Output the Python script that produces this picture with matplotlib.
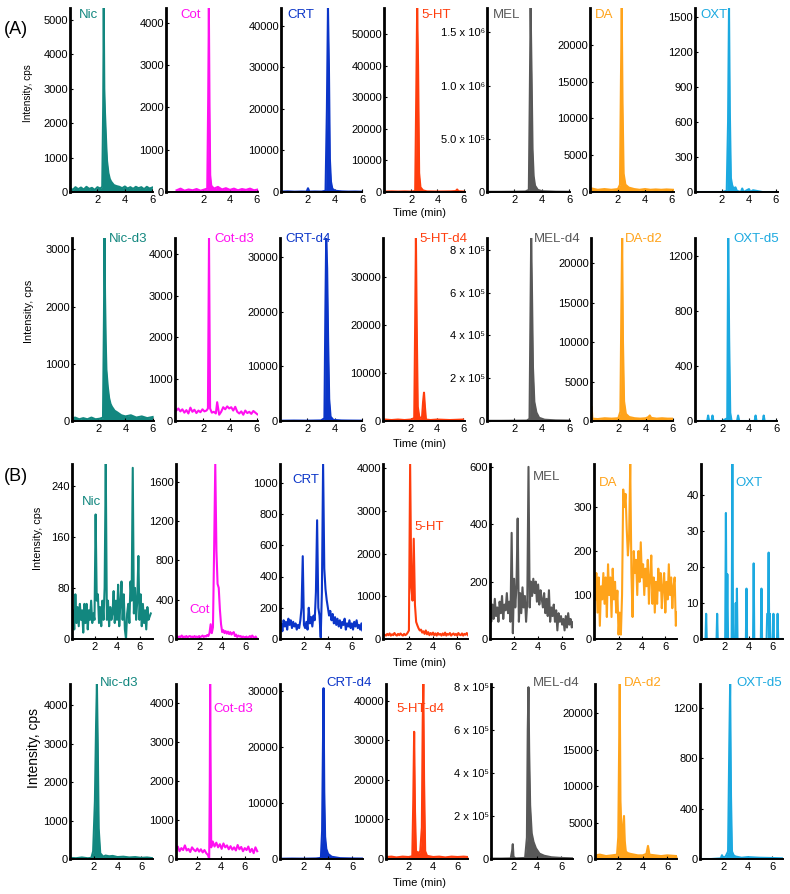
import numpy as np
import matplotlib.pyplot as plt

plt.rcParams['font.family'] = ['Liberation Sans', 'DejaVu Sans']

TEAL = "#12877f"
MAGENTA = "#ff10f0"
BLUE = "#0b35c8"
RED = "#ff3d0d"
GRAY = "#585858"
ORANGE = "#ffa31a"
SKY = "#1ba9e0"

# ---- (A) standards, analytes: (time min, intensity cps)
nic_a = [(0.0, 120), (0.2, 60), (0.4, 140), (0.6, 80), (0.8, 130), (1.0, 70), (1.2, 150), (1.4, 90),
         (1.6, 120), (1.8, 60), (2.0, 140), (2.2, 100), (2.35, 150), (2.42, 2500), (2.46, 5350),
         (2.5, 3000), (2.55, 2300), (2.6, 1800), (2.65, 1300), (2.7, 900), (2.8, 550), (2.9, 380),
         (3.0, 300), (3.1, 250), (3.2, 200), (3.4, 170), (3.6, 150), (3.8, 110), (4.0, 160), (4.2, 100),
         (4.4, 140), (4.6, 90), (4.8, 150), (5.0, 110), (5.2, 140), (5.4, 80), (5.6, 150), (5.8, 100),
         (6.0, 130)]
cot_a = [(0.0, 40), (0.3, 80), (0.6, 30), (0.9, 60), (1.2, 40), (1.5, 70), (1.8, 30), (2.1, 60),
         (2.3, 80), (2.37, 2200), (2.42, 4350), (2.47, 2000), (2.52, 400), (2.6, 150), (2.8, 80),
         (3.1, 120), (3.4, 60), (3.7, 90), (4.0, 50), (4.3, 80), (4.6, 40), (4.9, 70), (5.2, 50),
         (5.5, 80), (5.8, 40), (6.1, 60)]
crt_a = [(0.0, 100), (0.5, 150), (1.0, 80), (1.5, 120), (1.9, 100), (2.0, 900), (2.1, 100), (2.5, 130),
         (3.0, 100), (3.3, 300), (3.4, 20000), (3.48, 44300), (3.55, 30000), (3.62, 8000), (3.7, 2500),
         (3.8, 800), (4.0, 300), (4.5, 150), (5.0, 100), (5.5, 120), (6.0, 80)]
ht_a = [(0.0, 150), (0.5, 200), (1.0, 150), (1.5, 200), (2.0, 150), (2.3, 300), (2.38, 30000),
        (2.45, 58200), (2.52, 40000), (2.6, 6000), (2.7, 1500), (2.9, 500), (3.2, 200), (4.0, 150),
        (5.0, 200), (5.4, 300), (5.5, 800), (5.6, 250), (6.0, 150)]
mel_a = [(0.0, 2000), (1.0, 2000), (2.0, 3000), (2.8, 5000), (3.05, 20000), (3.12, 900000),
         (3.18, 1730000), (3.25, 1100000), (3.32, 400000), (3.4, 150000), (3.5, 60000), (3.7, 20000),
         (4.0, 8000), (5.0, 3000), (6.0, 2000)]
da_a = [(0.0, 500), (0.5, 300), (1.0, 400), (1.5, 300), (2.0, 400), (2.15, 1000), (2.22, 15000),
        (2.28, 25000), (2.34, 12000), (2.42, 2500), (2.55, 1000), (2.8, 600), (3.2, 400), (3.6, 300),
        (4.0, 400), (4.4, 300), (4.8, 350), (5.2, 300), (5.6, 350), (6.1, 300)]
oxt_a = [(0.0, 0), (1.0, 0), (2.0, 0), (2.35, 10), (2.45, 600), (2.52, 1580), (2.58, 700), (2.66, 120),
         (2.75, 60), (2.85, 30), (3.0, 40), (3.1, 10), (3.4, 0), (3.5, 30), (3.6, 0), (4.0, 25),
         (4.1, 0), (4.3, 15), (5.0, 0), (6.0, 0)]

# ---- (A) standards, internal standards
nic_d3_a = [(0.0, 40), (0.3, 60), (0.6, 30), (0.9, 50), (1.2, 30), (1.5, 60), (1.8, 30), (2.1, 40),
            (2.35, 60), (2.42, 1800), (2.46, 3200), (2.5, 2200), (2.55, 1400), (2.6, 900), (2.7, 600),
            (2.8, 400), (2.9, 300), (3.0, 250), (3.2, 180), (3.4, 150), (3.7, 100), (4.0, 80),
            (4.4, 100), (4.8, 60), (5.2, 80), (5.6, 50), (6.0, 70)]
cot_d3_a = [(0.0, 250), (0.15, 300), (0.3, 230), (0.45, 280), (0.6, 200), (0.75, 260), (0.9, 180),
            (1.05, 320), (1.2, 220), (1.35, 270), (1.5, 190), (1.65, 250), (1.8, 210), (1.95, 280),
            (2.1, 230), (2.25, 250), (2.36, 300), (2.44, 4380), (2.52, 300), (2.65, 200), (2.8, 220),
            (2.95, 180), (3.05, 450), (3.2, 150), (3.35, 220), (3.5, 330), (3.65, 280), (3.8, 350),
            (3.95, 300), (4.1, 330), (4.25, 250), (4.4, 340), (4.55, 220), (4.7, 180), (4.85, 230),
            (5.0, 150), (5.15, 250), (5.3, 190), (5.45, 220), (5.6, 170), (5.75, 240), (5.9, 200),
            (6.05, 160)]
crt_d4_a = [(0.0, 50), (1.0, 80), (2.0, 60), (3.0, 100), (3.25, 500), (3.32, 20000), (3.38, 33500),
            (3.45, 28000), (3.52, 15000), (3.6, 4000), (3.7, 800), (3.9, 200), (4.5, 100), (5.0, 80),
            (6.0, 60)]
ht_d4_a = [(0.0, 300), (0.5, 200), (1.0, 300), (1.5, 200), (2.0, 300), (2.25, 600), (2.32, 20000),
           (2.38, 38100), (2.44, 20000), (2.52, 3000), (2.65, 600), (2.85, 800), (2.93, 4000),
           (3.0, 5900), (3.07, 3000), (3.15, 300), (3.5, 200), (4.0, 300), (5.0, 200), (6.0, 300)]
mel_d4_a = [(0.0, 1000), (1.0, 1000), (2.0, 1500), (2.9, 2000), (3.1, 10000), (3.17, 500000),
            (3.22, 855000), (3.28, 600000), (3.35, 250000), (3.45, 90000), (3.6, 40000), (3.8, 15000),
            (4.2, 6000), (5.0, 3000), (6.0, 2000)]
da_d2_a = [(0.0, 1800), (0.05, 1800), (0.1, 300), (0.5, 250), (1.0, 350), (1.5, 300), (2.0, 350),
           (2.15, 1200), (2.22, 14000), (2.28, 23200), (2.34, 10000), (2.42, 2500), (2.55, 900),
           (2.8, 500), (3.2, 350), (3.6, 300), (4.0, 350), (4.2, 500), (4.3, 700), (4.4, 400),
           (4.8, 300), (5.2, 350), (5.6, 300), (6.0, 300)]
oxt_d5_a = [(0.0, 0), (0.9, 0), (0.97, 40), (1.04, 0), (1.22, 0), (1.29, 40), (1.36, 0), (2.0, 0),
            (2.38, 20), (2.45, 1330), (2.52, 600), (2.6, 60), (2.7, 0), (3.1, 0), (3.18, 40), (3.26, 0),
            (4.4, 0), (4.47, 40), (4.54, 0), (5.0, 0), (5.07, 40), (5.14, 0), (6.0, 0)]

# ---- (B) sample, analytes: readings every 0.1 min from t = 0
dt_b = 0.1
nic_b = [20, 45, 15, 70, 25, 50, 20, 55, 30, 45, 10, 55, 25, 55, 15, 45, 30, 60, 25, 40,
         30, 195, 60, 70, 25, 50, 20, 60, 30, 80, 274, 30, 60, 20, 50, 30, 40, 75, 25, 60,
         30, 85, 20, 55, 90, 30, 70, 15, 0, 40, 55, 25, 90, 60, 268, 40, 80, 30, 60, 130,
         30, 70, 20, 55, 25, 45, 15, 50, 30, 35, 40]
cot_b = [20, 30, 15, 25, 20, 35, 15, 25, 20, 30, 15, 25, 30, 20, 25, 15, 30, 20, 25, 15,
         30, 20, 25, 35, 20, 30, 25, 40, 30, 60, 150, 60, 120, 900, 1780, 900, 560, 520, 300, 150,
         70, 90, 60, 80, 55, 75, 50, 70, 45, 60, 70, 30, 45, 20, 35, 25, 30, 15, 25, 20,
         15, 25, 10, 20, 30, 15, 35, 20, 10, 25, 5]
crt_b = [60, 100, 50, 120, 80, 110, 60, 130, 90, 120, 70, 110, 80, 100, 60, 90, 70, 120, 200, 530,
         90, 70, 110, 60, 200, 100, 140, 80, 150, 120, 300, 760, 200, 150, 10, 300, 1120, 450, 320, 250,
         200, 150, 180, 120, 160, 100, 140, 90, 130, 80, 120, 70, 110, 90, 130, 60, 100, 80, 120, 70,
         100, 60, 110, 80, 120, 70, 90, 60, 100, 50, 80]
ht_b = [100, 80, 120, 90, 130, 80, 110, 90, 140, 100, 80, 120, 90, 130, 100, 80, 120, 90, 110, 150,
        200, 4100, 1200, 900, 2350, 800, 400, 320, 250, 200, 220, 150, 180, 120, 200, 110, 160, 90, 140, 100,
        150, 90, 130, 80, 140, 100, 120, 80, 130, 90, 150, 80, 120, 100, 140, 80, 110, 130, 90, 120,
        80, 140, 100, 90, 130, 80, 120, 100, 140, 90]
mel_b = [150, 60, 120, 70, 140, 80, 110, 60, 130, 90, 150, 70, 120, 100, 160, 90, 130, 60, 370, 20,
         210, 110, 180, 420, 60, 160, 90, 180, 110, 150, 60, 130, 600, 110, 200, 150, 210, 160, 200, 130,
         190, 120, 170, 140, 110, 160, 90, 140, 80, 170, 60, 110, 80, 120, 60, 100, 30, 90, 60, 80,
         50, 70, 30, 80, 40, 90, 50, 70, 40, 60, 50]
da_b = [90, 150, 60, 140, 30, 120, 90, 150, 80, 140, 50, 170, 100, 140, 50, 160, 90, 130, 60, 110,
        10, 60, 10, 100, 340, 300, 330, 250, 190, 230, 398, 150, 50, 200, 150, 180, 100, 200, 130, 220,
        140, 170, 100, 160, 120, 180, 80, 140, 190, 80, 140, 60, 130, 80, 160, 110, 150, 70, 120, 150,
        60, 130, 90, 170, 100, 140, 70, 120, 140, 30, 60]
oxt_b = [(0.0, 0), (0.38, 0), (0.43, 7), (0.48, 0), (1.3, 0), (1.35, 7), (1.4, 0), (2.02, 0),
         (2.08, 35), (2.14, 0), (2.2, 18), (2.26, 0), (2.56, 0), (2.62, 48.6), (2.68, 0), (2.85, 0),
         (2.9, 10), (2.95, 0), (3.0, 14), (3.05, 0), (3.75, 0), (3.8, 14), (3.85, 0), (4.35, 0),
         (4.4, 21), (4.45, 0), (5.0, 0), (5.05, 14), (5.1, 0), (5.48, 0), (5.53, 7), (5.6, 7),
         (5.65, 24), (5.7, 0), (5.75, 7), (5.8, 0), (6.0, 0), (6.05, 7), (6.1, 0), (6.35, 0),
         (6.4, 7), (6.45, 0), (6.8, 0)]

# ---- (B) sample, internal standards
nic_d3_b = [(0.0, 30), (0.5, 20), (1.0, 40), (1.5, 20), (1.8, 30), (1.95, 200), (2.1, 1500),
            (2.2, 3500), (2.27, 4550), (2.34, 3000), (2.42, 800), (2.55, 150), (2.8, 60), (3.0, 90),
            (3.3, 70), (3.6, 80), (4.0, 50), (4.5, 60), (5.0, 40), (5.5, 50), (6.0, 30), (6.5, 40),
            (7.0, 20)]
cot_d3_b = [(0.2, 250), (0.35, 320), (0.5, 200), (0.65, 280), (0.8, 230), (0.95, 350), (1.1, 220),
            (1.25, 260), (1.4, 180), (1.55, 300), (1.7, 240), (1.85, 200), (2.0, 270), (2.15, 190),
            (2.3, 250), (2.45, 170), (2.6, 230), (2.75, 150), (2.9, 100), (3.0, 0), (3.05, 2000),
            (3.08, 4500), (3.12, 2500), (3.17, 300), (3.3, 450), (3.45, 320), (3.6, 420), (3.75, 300),
            (3.9, 380), (4.05, 260), (4.2, 400), (4.35, 300), (4.5, 350), (4.65, 250), (4.8, 330),
            (4.95, 240), (5.1, 300), (5.25, 220), (5.4, 360), (5.55, 250), (5.7, 310), (5.85, 200),
            (6.0, 280), (6.15, 230), (6.3, 320), (6.45, 180), (6.6, 260), (6.75, 150), (6.9, 300),
            (7.05, 200)]
crt_d4_b = [(0.0, 50), (1.0, 80), (2.0, 60), (3.0, 100), (3.4, 200), (3.5, 5000), (3.57, 20000),
            (3.62, 30500), (3.68, 12000), (3.75, 4000), (3.85, 1800), (4.0, 900), (4.3, 400),
            (5.0, 150), (6.0, 100), (6.9, 80)]
ht_d4_b = [(0.15, 500), (0.6, 600), (1.0, 400), (1.5, 600), (2.0, 500), (2.3, 700), (2.38, 15000),
           (2.45, 32200), (2.52, 12000), (2.6, 2000), (2.8, 1500), (2.95, 2000), (3.08, 8000),
           (3.15, 35000), (3.2, 44300), (3.26, 20000), (3.35, 2000), (3.5, 800), (4.0, 500), (4.5, 600),
           (5.0, 400), (5.5, 600), (6.0, 500), (6.5, 600), (6.85, 500)]
mel_d4_b = [(0.15, 2000), (1.0, 2000), (1.8, 3000), (1.92, 40000), (1.97, 69000), (2.03, 10000),
            (2.2, 3000), (3.0, 5000), (3.15, 100000), (3.22, 600000), (3.28, 800000), (3.34, 500000),
            (3.42, 250000), (3.55, 120000), (3.7, 80000), (3.9, 50000), (4.2, 25000), (4.6, 15000),
            (5.2, 8000), (6.0, 5000), (7.0, 3000)]
da_d2_b = [(0.1, 500), (0.5, 600), (1.0, 400), (1.5, 500), (1.9, 600), (2.0, 3000), (2.07, 15000),
           (2.12, 24000), (2.18, 8000), (2.28, 2500), (2.35, 3000), (2.42, 5000), (2.47, 5900),
           (2.53, 2500), (2.62, 1000), (2.8, 800), (3.0, 700), (3.3, 600), (3.6, 500), (4.0, 500),
           (4.3, 700), (4.43, 1800), (4.55, 600), (5.0, 500), (5.5, 400), (6.0, 500), (6.8, 400)]
oxt_d5_b = [(0.1, 0), (1.0, 0), (1.8, 5), (1.9, 30), (2.0, 10), (2.2, 20), (2.4, 60), (2.5, 900),
            (2.57, 1390), (2.64, 500), (2.72, 60), (2.85, 30), (3.0, 20), (3.5, 10), (4.0, 15),
            (5.0, 10), (6.0, 8), (6.9, 5)]

ticks_std = [2, 4, 6]

W, H = 790, 894
fig = plt.figure(figsize=(W / 100, H / 100), dpi=100)


def pairs(points):
    arr = np.array(points, dtype=float)
    return arr[:, 0], arr[:, 1]


def sampled(values):
    return np.arange(len(values)) * dt_b, np.array(values, dtype=float)


def sci(ticks, mant_fmt, exp):
    labels = ["0"]
    sup = {"5": "\u2075", "6": "\u2076"}[exp]
    for v in ticks[1:]:
        labels.append(mant_fmt.format(v / 10 ** int(exp)) + " x 10" + sup)
    return labels


def panel(top, bottom, left, right, xlim, ylim, data, color, name, lx, ly,
          yticks, ylabels=None, solid=True):
    ax = fig.add_axes([left / W, 1 - bottom / H, (right - left) / W, (bottom - top) / H])
    t, y = data
    if solid:
        ax.fill_between(t, y, color=color, lw=0)
    ax.plot(t, y, color=color, lw=1.5)
    ax.set_xlim(*xlim)
    ax.set_ylim(*ylim)
    ax.set_xticks(ticks_std)
    ax.set_yticks(yticks)
    if ylabels is None:
        ylabels = [f"{v:g}" for v in yticks]
    ax.set_yticklabels(ylabels)
    for s in ("top", "right"):
        ax.spines[s].set_visible(False)
    ax.spines["left"].set_linewidth(2.0)
    ax.spines["bottom"].set_linewidth(1.4)
    ax.tick_params(direction="in", length=2.5, width=0.8, labelsize=8, pad=1.5)
    ax.tick_params(axis="x", pad=2.5)
    fig.text(lx / W, 1 - ly / H, name, color=color, fontsize=9.5, ha="left", va="center")
    return ax


# row 1: (A) analytes
r = (8, 192)
panel(*r, 70, 153, (0, 6.05), (0, 5350), pairs(nic_a), TEAL, "Nic", 79, 15, [0, 1000, 2000, 3000, 4000, 5000])
panel(*r, 166, 258, (-0.79, 6.1), (0, 4350), pairs(cot_a), MAGENTA, "Cot", 180, 15, [0, 1000, 2000, 3000, 4000])
panel(*r, 281, 362, (0, 6.0), (0, 44300), pairs(crt_a), BLUE, "CRT", 287, 15, [0, 10000, 20000, 30000, 40000])
panel(*r, 384, 465, (-0.08, 6.1), (0, 58200), pairs(ht_a), RED, "5-HT", 421, 15,
      [0, 10000, 20000, 30000, 40000, 50000])
mel_ticks_a = [0, 500000, 1000000, 1500000]
panel(*r, 487, 570, (0, 6.05), (0, 1730000), pairs(mel_a), GRAY, "MEL", 493, 15, mel_ticks_a,
      sci(mel_ticks_a, "{:.1f}", "6")[:1] + ["5.0 x 10\u2075", "1.0 x 10\u2076", "1.5 x 10\u2076"])
panel(*r, 590, 674, (-0.07, 6.15), (0, 25000), pairs(da_a), ORANGE, "DA", 595, 15, [0, 5000, 10000, 15000, 20000])
panel(*r, 695, 778, (0, 6.15), (0, 1580), pairs(oxt_a), SKY, "OXT", 700, 15, [0, 300, 600, 900, 1200, 1500])

# row 2: (A) internal standards
r = (238, 421)
panel(*r, 72, 154, (0.07, 6.1), (0, 3200), pairs(nic_d3_a), TEAL, "Nic-d3", 109, 239, [0, 1000, 2000, 3000])
panel(*r, 175, 258, (-0.1, 6.1), (0, 4380), pairs(cot_d3_a), MAGENTA, "Cot-d3", 214, 239,
      [0, 1000, 2000, 3000, 4000], solid=False)
panel(*r, 280, 362, (0, 5.96), (0, 33500), pairs(crt_d4_a), BLUE, "CRT-d4", 285, 239, [0, 10000, 20000, 30000])
panel(*r, 383, 465, (-0.15, 6.15), (0, 38100), pairs(ht_d4_a), RED, "5-HT-d4", 419, 239, [0, 10000, 20000, 30000])
mel_ticks_ad = [0, 200000, 400000, 600000, 800000]
panel(*r, 487, 570, (0, 6.05), (0, 855000), pairs(mel_d4_a), GRAY, "MEL-d4", 534, 239, mel_ticks_ad,
      sci(mel_ticks_ad, "{:.0f}", "5"))
panel(*r, 591, 673, (0, 6.0), (0, 23200), pairs(da_d2_a), ORANGE, "DA-d2", 625, 239, [0, 5000, 10000, 15000, 20000])
panel(*r, 695, 777, (0, 6.05), (0, 1330), pairs(oxt_d5_a), SKY, "OXT-d5", 733, 239, [0, 400, 800, 1200])

# row 3: (B) analytes
r = (464, 639)
panel(*r, 72, 153, (0, 7.2), (0, 274), sampled(nic_b), TEAL, "Nic", 82, 502, [0, 80, 160, 240], solid=False)
panel(*r, 176, 258, (0, 7.1), (0, 1780), sampled(cot_b), MAGENTA, "Cot", 189, 610,
      [0, 400, 800, 1200, 1600], solid=False)
panel(*r, 280, 362, (0, 6.85), (0, 1120), sampled(crt_b), BLUE, "CRT", 292, 480,
      [0, 200, 400, 600, 800, 1000], solid=False)
panel(*r, 383, 468, (-0.15, 6.9), (0, 4100), sampled(ht_b), RED, "5-HT", 414, 527,
      [0, 1000, 2000, 3000, 4000], solid=False)
panel(*r, 490, 573, (0, 6.9), (0, 610), sampled(mel_b), GRAY, "MEL", 533, 477, [0, 200, 400, 600], solid=False)
panel(*r, 594, 677, (-0.1, 7.0), (0, 398), sampled(da_b), ORANGE, "DA", 599, 483, [0, 100, 200, 300], solid=False)
panel(*r, 701, 783, (0, 6.85), (0, 48.6), pairs(oxt_b), SKY, "OXT", 735, 483, [0, 10, 20, 30, 40], solid=False)

# row 4: (B) internal standards
r = (684, 859)
panel(*r, 70, 153, (0, 7.0), (0, 4550), pairs(nic_d3_b), TEAL, "Nic-d3", 100, 683, [0, 1000, 2000, 3000, 4000])
panel(*r, 176, 259, (0.2, 7.2), (0, 4500), pairs(cot_d3_b), MAGENTA, "Cot-d3", 213, 709,
      [0, 1000, 2000, 3000, 4000], solid=False)
panel(*r, 280, 363, (0, 6.9), (0, 31250), pairs(crt_d4_b), BLUE, "CRT-d4", 326, 683, [0, 10000, 20000, 30000])
panel(*r, 386, 468, (0.15, 6.85), (0, 44300), pairs(ht_d4_b), RED, "5-HT-d4", 396, 709,
      [0, 10000, 20000, 30000, 40000])
mel_ticks_bd = [0, 200000, 400000, 600000, 800000]
panel(*r, 491, 573, (0.15, 7.0), (0, 815000), pairs(mel_d4_b), GRAY, "MEL-d4", 533, 683, mel_ticks_bd,
      sci(mel_ticks_bd, "{:.0f}", "5"))
panel(*r, 595, 677, (0.1, 6.8), (0, 24000), pairs(da_d2_b), ORANGE, "DA-d2", 624, 683, [0, 5000, 10000, 15000, 20000])
panel(*r, 700, 783, (0.1, 6.9), (0, 1390), pairs(oxt_d5_b), SKY, "OXT-d5", 736, 683, [0, 400, 800, 1200])

# shared texts
for x, y, size in [(28, 93, 7.2), (29, 311, 7.8), (38, 538, 7.8), (34, 748, 10)]:
    fig.text(x / W, 1 - y / H, "Intensity, cps", rotation=90, fontsize=size, ha="center", va="center")
for y in (213, 444, 663, 883):
    fig.text(419 / W, 1 - y / H, "Time (min)", fontsize=8, ha="center", va="center")
fig.text(16 / W, 1 - 29 / H, "(A)", fontsize=13, ha="center", va="center")
fig.text(16 / W, 1 - 477 / H, "(B)", fontsize=13, ha="center", va="center")

fig.savefig("out.png", dpi=100)
